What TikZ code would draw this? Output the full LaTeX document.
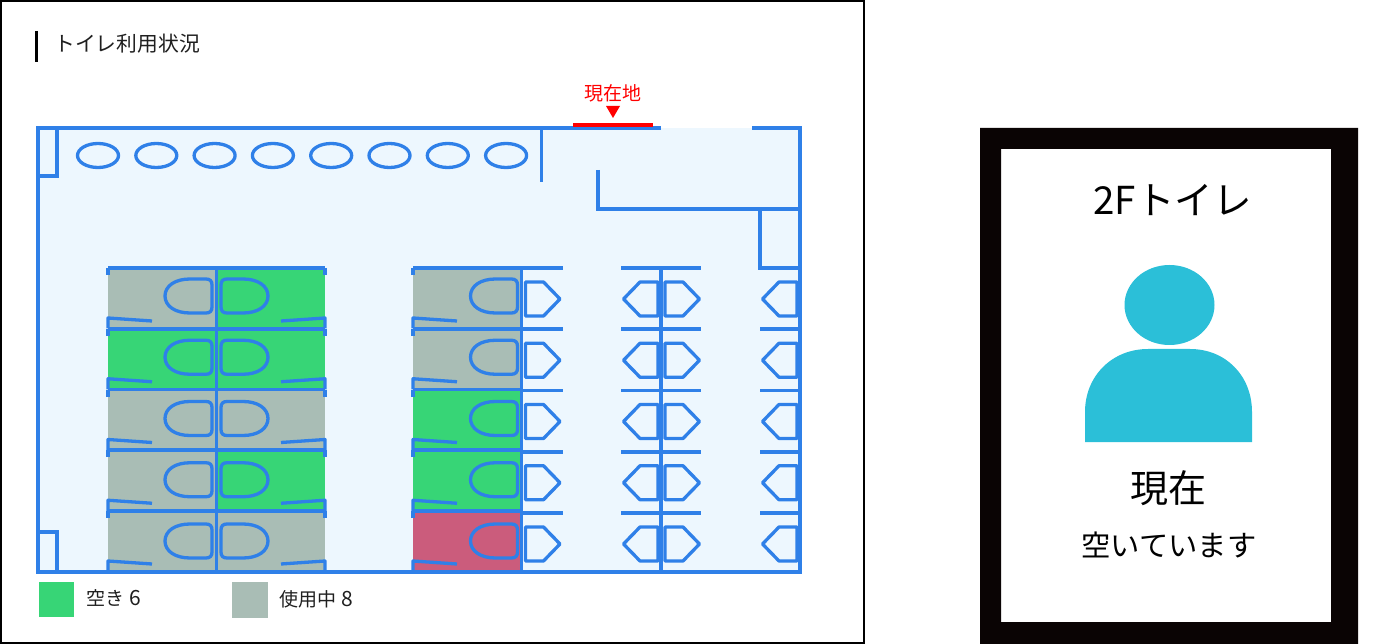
\documentclass[tikz,border=0pt]{standalone}
\usepackage{fontspec}
\setmainfont{Noto Sans CJK JP}
\usetikzlibrary{positioning,calc}
\definecolor{wallblue}{HTML}{2F80E8}
\definecolor{floorblue}{HTML}{EDF7FE}
\definecolor{freegreen}{HTML}{37D576}
\definecolor{usedgray}{HTML}{A9BDB5}
\definecolor{alertred}{HTML}{CB5C7C}
\definecolor{personblue}{HTML}{2BBFD8}
\definecolor{framedark}{HTML}{0A0404}
\newcommand{\fsize}[1]{\fontsize{#1}{#1}\selectfont}
\tikzset{
    wall/.style={draw=wallblue, line width=3.6pt},
    fixture/.style={draw=wallblue, line width=3.3pt, line join=round},
    label/.style={inner sep=0pt, text=black!88}
}
\begin{document}
\begin{tikzpicture}[x=1pt, y=-1pt]
    \useasboundingbox (0,0) rectangle (1379,644);
    \draw[black, line width=2pt] (1,1) rectangle (864,643);

    % title
    \draw[black, line width=3pt] (36,31) -- (36,62);
    \node[label, anchor=west] (title) at (54,44) {\fsize{20.8}トイレ利用状況};

    % floor
    \fill[floorblue] (38,128) rectangle (800,572);

    % stall colours
    \foreach \y/\col [count=\i] in {268/usedgray, 328.75/freegreen, 389.5/usedgray, 450.25/usedgray, 511/usedgray}
        \fill[\col] (108,\y) rectangle (216.5,\y+60.75);
    \foreach \y/\col in {268/freegreen, 328.75/freegreen, 389.5/usedgray, 450.25/freegreen, 511/usedgray}
        \fill[\col] (216.5,\y) rectangle (325,\y+60.75);
    \foreach \y/\col in {268/usedgray, 328.75/usedgray, 389.5/freegreen, 450.25/freegreen, 511/alertred}
        \fill[\col] (413,\y) rectangle (521.5,\y+60.75);

    % outer walls
    \draw[wall, line join=miter] (661,128) -- (38,128) -- (38,572) -- (800,572) -- (800,128) -- (752,128);
    \draw[wall] (541.5,128) -- (541.5,182);
    \draw[wall] (598,170) -- (598,209) -- (800,209);
    \draw[wall] (760,209) -- (760,268) -- (800,268);
    \draw[wall] (38,128) -- (57,128) -- (57,176) -- (38,176);
    \draw[wall] (38,532) -- (57,532) -- (57,572);
    \draw[wall] (216.5,268) -- (216.5,572);
    \draw[wall] (521.5,268) -- (521.5,572);
    \draw[wall] (661,268) -- (661,572);

    % current position
    \draw[red, line width=4.5pt] (573,125) -- (653,125);
    \fill[red] (606,106) -- (620,106) -- (613,118) -- cycle;
    \node[inner sep=0pt, text=red] (here) at (613,93) {\fsize{19}現在地};

    % washbasins
    \foreach \i in {0,...,7}
        \draw[fixture] (98+58.3*\i,155.5) ellipse (20.5 and 12);

    % stall partitions
    \foreach \y in {268, 328.75, 389.5, 450.25, 511} {
        \draw[wall] (108,\y) -- (325,\y);
        \draw[wall] (413,\y) -- (521.5,\y);
        \foreach \xa/\dir in {108/1, 325/-1, 413/1} {
            \draw[wall] (\xa,\y) -- (\xa,\y+7);
            \draw[fixture] (\xa,\y+60.5) -- (\xa,\y+50) -- (\xa+\dir*44,\y+53);
        }
    }

    % toilets
    \foreach \i in {0,...,4} {
        \foreach \xa/\dir in {212/1, 221/-1, 517.5/1} {
            \begin{scope}[shift={(\xa,279+61.25*\i)}, xscale=\dir]
                \draw[fixture] (0,6) -- (0,28) .. controls (0,32) and (-2,34) .. (-6,34) -- (-22,34)
                    .. controls (-37,34) and (-47,27) .. (-47,17)
                    .. controls (-47,7) and (-37,0) .. (-22,0) -- (-6,0)
                    .. controls (-2,0) and (0,2) .. (0,6) -- cycle;
            \end{scope}
        }
    }

    % urinal partitions
    \foreach \i in {0,...,4} {
        \draw[wall] (521.5,268+61.25*\i) -- (563,268+61.25*\i);
        \draw[wall] (621,268+61.25*\i) -- (701,268+61.25*\i);
        \draw[wall] (760,268+61.25*\i) -- (800,268+61.25*\i);
    }

    % urinals
    \foreach \i in {0,...,4} {
        \foreach \xa/\dir in {525.5/1, 658/-1, 665/1, 797/-1} {
            \begin{scope}[shift={(\xa,282+61.25*\i)}, xscale=\dir]
                \draw[fixture] (0,0) -- (18,0) -- (34.5,17) -- (18,34) -- (0,34) -- cycle;
            \end{scope}
        }
    }

    % legend
    \fill[freegreen] (39,582) rectangle (74,617);
    \node[label, anchor=west] (free) at (86,598) {\fsize{19}空き\hspace{0.3em}{\fsize{21}6}};
    \fill[usedgray] (232,582) rectangle (268,618);
    \node[label, anchor=west] (used) at (279,599) {\fsize{19}使用中\hspace{0.3em}{\fsize{21}8}};

    % status panel
    \fill[framedark, even odd rule] (980,128) rectangle (1358,644) (1001,149) rectangle (1331,622);
    \node[inner sep=0pt] (floor) at (1172.5,200) {\fsize{38.5}2Fトイレ};
    \fill[personblue] (1169.5,305) ellipse (45 and 40);
    \fill[personblue] (1085,442) -- (1085,412) .. controls (1085,376) and (1112,349) .. (1148,349)
        -- (1190,349) .. controls (1226,349) and (1252,376) .. (1252,412) -- (1252,442) -- cycle;
    \node[inner sep=0pt] (now) at (1168,488) {\fsize{38}現在};
    \node[inner sep=0pt] (state) at (1169,545) {\fsize{29.3}空いています};
\end{tikzpicture}
\end{document}
